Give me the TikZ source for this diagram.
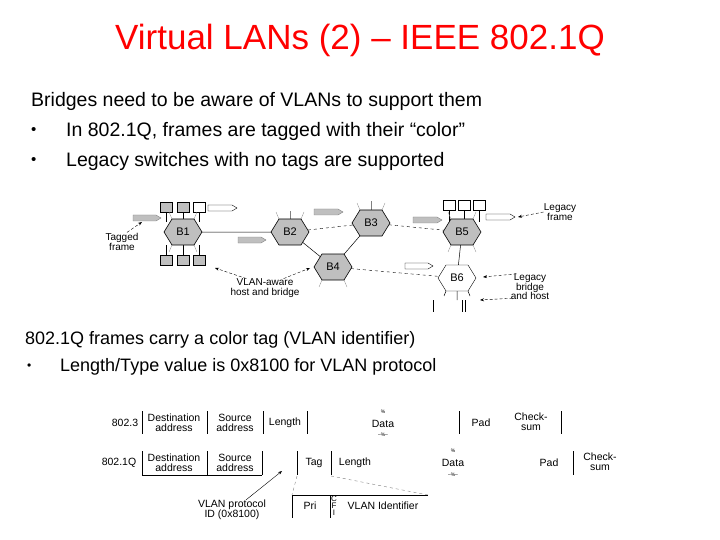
\documentclass[tikz,border=0pt]{standalone}
\usepackage{fontspec}
\setmainfont{Liberation Sans}
\usetikzlibrary{arrows.meta,calc}
\tikzset{>=Stealth}
\definecolor{hexgray}{gray}{0.75}
\tikzset{
  hex/.style={fill=hexgray,draw=black,line width=.6pt},
  tiny/.style={font=\fontsize{10}{9.5}\selectfont,align=center,inner sep=0pt},
  body/.style={font=\fontsize{19.5}{20}\selectfont,anchor=west,inner sep=0pt},
  grayfr/.style={fill=hexgray,draw=gray,line width=.4pt},
  whitefr/.style={fill=white,draw=black,line width=.4pt},
  lead/.style={densely dashed,->,>={Stealth[length=4pt]},line width=.4pt}
}
% flat-topped hexagon around a point
\newcommand*{\hexat}[3]{%
  \path[#3] ($(#1)+(-19,0)$) -- ++(8,-13) -- ++(22,0) -- ++(8,13) -- ++(-8,13) -- ++(-22,0) -- cycle;
  \node[tiny,font=\fontsize{11}{11}\selectfont] at (#1) {#2};}
% arrow-shaped frame symbol
\newcommand*{\frarrow}[4]{%
  \path[#4] (#1,#2) -- ++(#3-5,0) -- ++(5,3) -- ++(-5,3) -- ++(-#3+5,0) -- cycle;}
\begin{document}
\begin{tikzpicture}[x=1pt,y=-1pt]
\useasboundingbox (0,0) rectangle (720,540);
\node[text=red,font=\fontsize{35}{35}\selectfont,inner sep=0pt] (title) at (360,40) {Virtual LANs (2) – IEEE 802.1Q};
\node[body] (l1) at (31,101) {Bridges need to be aware of VLANs to support them};
\node[body,font=\fontsize{15}{15}\selectfont] (b1) at (31,131) {•}; \node[body] (l2) at (66,131) {In 802.1Q, frames are tagged with their “color”};
\node[body,font=\fontsize{15}{15}\selectfont] (b2) at (31,161) {•}; \node[body] (l3) at (66,161) {Legacy switches with no tags are supported};
\node[body,font=\fontsize{18}{18}\selectfont] (l4) at (25,340) {802.1Q frames carry a color tag (VLAN identifier)};
\node[body,font=\fontsize{12}{12}\selectfont] (b3) at (27,367) {•};
\node[body,font=\fontsize{18}{18}\selectfont] (l5) at (60,367) {Length/Type value is 0x8100 for VLAN protocol};

% bridges
\coordinate (B1) at (183,232); \coordinate (B2) at (290,232);
\coordinate (B3) at (371,223); \coordinate (B5) at (462,232);
\coordinate (B4) at (333,267); \coordinate (B6) at (457,278);
\draw[line width=.5pt] (B1) -- (B2) (B2) -- (B4) (B3) -- (B4) (B5) -- (B6);
\draw[dashed,line width=.4pt] (B2) -- (B3) (B3) -- (B5) (B4) -- (B6);
% hosts of B1
\foreach \x/\c in {166/grayfr,183/grayfr,199/whitefr}{
  \draw[line width=.5pt] (\x,212) -- (\x,222);
  \draw[\c,draw=black] (\x-6,202) rectangle (\x+6,212);
  \draw[line width=.5pt] (\x,245) -- (\x,255);
  \draw[grayfr,draw=black] (\x-6,255) rectangle (\x+6,265);}
% hosts of B5
\foreach \x in {449,464,479}{
  \draw[line width=.5pt] (\x,210) -- (\x,222);
  \draw[whitefr] (\x-6,200) rectangle (\x+6,210);}
% port ticks
\foreach \b/\u/\d in {B1/1/1,B2/1/0,B3/1/0,B4/0/1,B5/1/1}{
  \ifnum\u=1 \draw[gray,line width=.3pt] ($(\b)+(-11,-13)$) -- ++(-3,-7) ($(\b)+(11,-13)$) -- ++(3,-7); \fi
  \ifnum\d=1 \draw[gray,line width=.3pt] ($(\b)+(-11,13)$) -- ++(-3,7) ($(\b)+(11,13)$) -- ++(3,7); \fi}
\draw[gray,line width=.3pt] ($(B2)+(0,-13)$) -- ++(0,-8) ($(B3)+(0,-13)$) -- ++(0,-9);
\hexat{B1}{B1}{hex} \hexat{B2}{B2}{hex} \hexat{B3}{B3}{hex}
\hexat{B4}{B4}{hex} \hexat{B5}{B5}{hex}
\hexat{B6}{B6}{fill=white,draw=black,line width=.4pt}
\draw[line width=.5pt] (457,291) -- (457,300) (B6) ++(-11,13) -- ++(-2,5) (B6) ++(11,13) -- ++(2,5);
\draw[line width=.5pt] (433,300) -- (433,312) (462,300) -- (462,312) (465,300) -- (465,312);
% frames
\frarrow{133}{215}{28}{grayfr}
\frarrow{238}{237}{28}{grayfr}
\frarrow{314}{209}{29}{grayfr}
\frarrow{413}{217}{29}{grayfr}
\frarrow{208}{205}{29}{whitefr}
\frarrow{486}{214}{29}{whitefr}
\frarrow{405}{263}{28}{whitefr}
% labels
\node[tiny] (tagged) at (122,242) {Tagged\\frame};
\node[tiny] (aware) at (265,288) {VLAN-aware\\host and bridge};
\node[tiny] (legf) at (560,212) {Legacy\\frame};
\node[tiny] (legb) at (530,287) {Legacy\\bridge\\and host};
\draw[lead] (tagged.north) ++(5,-1) -- (142,222);
\draw[lead] (aware.north west) ++(16,0) -- (215,268);
\draw[lead] (aware.north east) ++(-16,0) -- (310,268);
\draw[lead] (legf.west) -- (518,217);
\draw[lead] (legb.north west) ++(6,0) -- (483,277);
\draw[lead] (legb.south west) ++(2,-2) -- (480,300);

% frame formats
\tikzset{fl/.style={tiny,font=\fontsize{10.5}{10}\selectfont}}
\node[fl] (r1) at (125,423) {802.3};
\foreach \x in {142,207,263,307,459,561} \draw[line width=.5pt] (\x,411) -- (\x,434);
\node[fl] (d1) at (174,423) {Destination\\address};
\node[fl] (s1) at (235,423) {Source\\address};
\node[fl] (n1) at (285,423) {Length};
\node[fl] (a1) at (383,424) {Data};
\node[fl] (p1) at (481,423) {Pad};
\node[fl] (c1) at (531,422) {Check-\\sum};
\node[fl,font=\tiny] at (383,412) {\char`\%};
\node[fl,font=\tiny] at (383,435) {--\char`\%--};
\node[fl] (r2) at (119,463) {802.1Q};
\foreach \x in {142,207,262,297,331,573} \draw[line width=.5pt] (\x,451) -- (\x,475);
\draw[line width=.5pt] (142,475) -- (262,475);
\node[fl] (d2) at (174,463) {Destination\\address};
\node[fl] (s2) at (235,463) {Source\\address};
\node[fl] (t2) at (314,463) {Tag};
\node[fl] (n2) at (355,463) {Length};
\node[fl] (a2) at (453,463) {Data};
\node[fl] (p2) at (549,463) {Pad};
\node[fl] (c2) at (600,462) {Check-\\sum};
\node[fl,font=\tiny] at (453,451) {\char`\%};
\node[fl,font=\tiny] at (453,475) {--\char`\%--};
\coordinate (tl) at (292,495); \coordinate (tr) at (428,495);
\draw[dashed,gray,line width=.4pt] (297,476) -- (tl) (331,476) -- (tr);
\draw[line width=.5pt] (tl) -- (tr) (tl) -- ++(0,23) (330,495) -- (330,518);
\node[fl] (pri) at (310,506) {Pri};
\node[fl,font=\fontsize{8}{7}\selectfont] (cfi) at (334,506) {C\\F\\I};
\node[fl] (vid) at (383,506) {VLAN Identifier};
\node[fl] (vp) at (232,510) {VLAN protocol\\ID (0x8100)};
\draw[->,>={Stealth[length=4pt]},line width=.4pt] (vp.north) ++(14,0) -- (282,471);
\end{tikzpicture}
\end{document}
